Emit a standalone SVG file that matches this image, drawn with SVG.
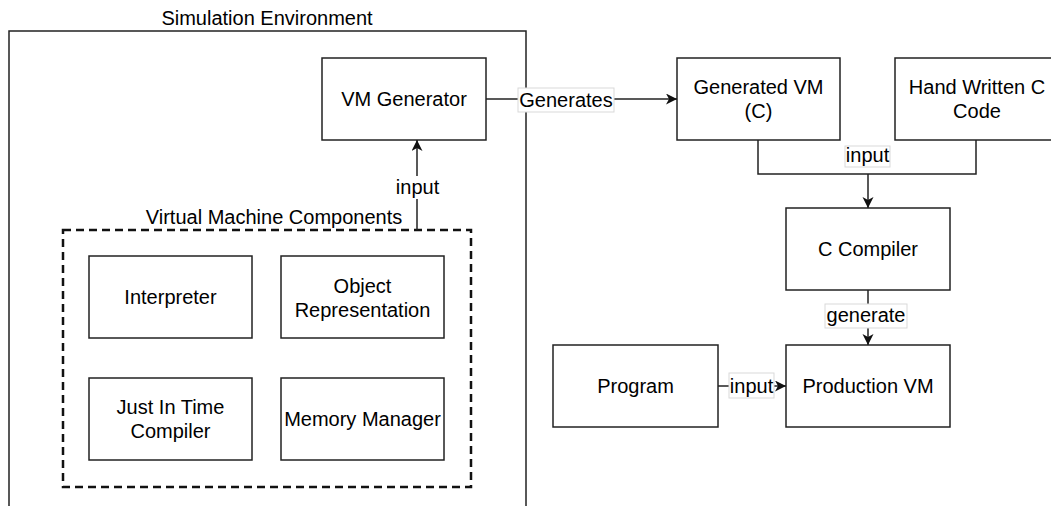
<svg xmlns="http://www.w3.org/2000/svg" width="1051" height="506" viewBox="0 0 1051 506">
<style>
  text { font-family: "Liberation Sans", Arial, Helvetica, sans-serif; font-size: 20px; fill: #000; text-anchor: middle; }
  .box { fill: #fff; stroke: #222; stroke-width: 1.5; }
  .edge { fill: none; stroke: #222; stroke-width: 1.5; }
  .lbl { fill: #fff; stroke: #d9d9d9; stroke-width: 1; }
  .lblnb { fill: #fff; stroke: none; }
</style>
<defs>
  <marker id="arr" markerUnits="userSpaceOnUse" markerWidth="12" markerHeight="12" refX="11" refY="5.5" orient="auto">
    <path d="M0,0 L11,5.5 L0,11 L3,5.5 z" fill="#111"/>
  </marker>
</defs>
<rect width="1051" height="506" fill="#fff"/>

<g id="simulation-environment">
  <rect x="9" y="31" width="517" height="500" fill="none" stroke="#222" stroke-width="1.5"/>
  <text x="267" y="25">Simulation Environment</text>
</g>

<g id="vm-components">
  <rect x="63" y="230" width="408" height="257" fill="none" stroke="#111" stroke-width="2.5" stroke-dasharray="8 5"/>
  <text x="274" y="224">Virtual Machine Components</text>
</g>

<g id="interpreter">
  <rect class="box" x="89" y="256" width="163" height="82"/>
  <text x="170.5" y="304">Interpreter</text>
</g>
<g id="object-representation">
  <rect class="box" x="281" y="256" width="163" height="82"/>
  <text x="362.5" y="293">Object</text>
  <text x="362.5" y="317">Representation</text>
</g>
<g id="jit-compiler">
  <rect class="box" x="89" y="378" width="163" height="82"/>
  <text x="170.5" y="414">Just In Time</text>
  <text x="170.5" y="438">Compiler</text>
</g>
<g id="memory-manager">
  <rect class="box" x="281" y="378" width="163" height="82"/>
  <text x="362.5" y="426">Memory Manager</text>
</g>

<g id="vm-generator">
  <rect class="box" x="322" y="58" width="164" height="82"/>
  <text x="404" y="106">VM Generator</text>
</g>
<g id="generated-vm">
  <rect class="box" x="677" y="58" width="163" height="82"/>
  <text x="758.5" y="94">Generated VM</text>
  <text x="758.5" y="118">(C)</text>
</g>
<g id="hand-written">
  <rect class="box" x="895" y="58" width="164" height="82"/>
  <text x="977" y="94">Hand Written C</text>
  <text x="977" y="118">Code</text>
</g>
<g id="c-compiler">
  <rect class="box" x="786" y="208" width="164" height="82"/>
  <text x="868" y="256">C Compiler</text>
</g>
<g id="production-vm">
  <rect class="box" x="786" y="345" width="164" height="82"/>
  <text x="868" y="393">Production VM</text>
</g>
<g id="program">
  <rect class="box" x="553" y="345" width="165" height="82"/>
  <text x="635.5" y="393">Program</text>
</g>

<g id="connectors">
  <path class="edge" d="M417 230 V140" marker-end="url(#arr)"/>
  <rect class="lblnb" x="395" y="176" width="45" height="23"/>
  <text x="417.5" y="194">input</text>

  <path class="edge" d="M486 99 H677" marker-end="url(#arr)"/>
  <rect class="lbl" x="518" y="88" width="96" height="24"/>
  <text x="566" y="107">Generates</text>

  <path class="edge" d="M758 140 V174 H976 V140"/>
  <path class="edge" d="M868 174 V208" marker-end="url(#arr)"/>
  <rect class="lbl" x="845" y="146" width="45" height="21"/>
  <text x="867.5" y="162">input</text>

  <path class="edge" d="M868 290 V345" marker-end="url(#arr)"/>
  <rect class="lbl" x="825" y="304" width="82" height="24"/>
  <text x="866" y="322">generate</text>

  <path class="edge" d="M718 386 H786" marker-end="url(#arr)"/>
  <rect class="lbl" x="729" y="373" width="45" height="25"/>
  <text x="751.5" y="393">input</text>
</g>
</svg>
